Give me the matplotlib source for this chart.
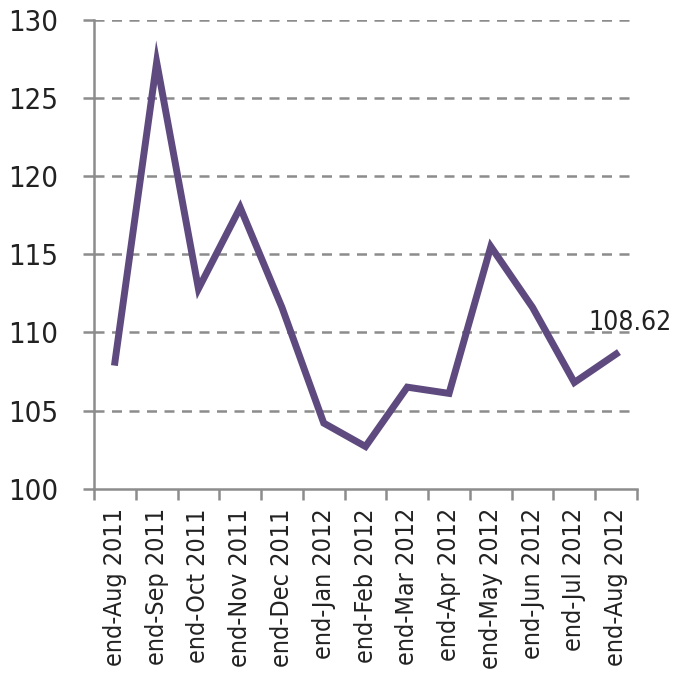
import numpy as np
import matplotlib.pyplot as plt
from matplotlib import font_manager as fm

# Dados (leitura aproximada do gráfico)
months = ['end-Aug 2011', 'end-Sep 2011', 'end-Oct 2011', 'end-Nov 2011',
          'end-Dec 2011', 'end-Jan 2012', 'end-Feb 2012', 'end-Mar 2012',
          'end-Apr 2012', 'end-May 2012', 'end-Jun 2012', 'end-Jul 2012',
          'end-Aug 2012']
values = [108.1, 127.3, 112.8, 118.0, 111.6, 104.2, 102.7, 106.5,
          106.1, 115.5, 111.6, 106.8, 108.62]
y_ticks = [100, 105, 110, 115, 120, 125, 130]

# procura uma fonte condensada, se houver
narrow = [f for f in fm.fontManager.ttflist
          if ('Narrow' in f.name or 'Condensed' in f.name or f.stretch in ('condensed', 'semi-condensed'))
          and f.style == 'normal' and f.weight in (400, 'normal')]
if narrow:
    plt.rcParams['font.family'] = [narrow[0].name, 'DejaVu Sans']
    plt.rcParams['font.stretch'] = narrow[0].stretch
else:
    plt.rcParams['font.family'] = ['Liberation Sans', 'DejaVu Sans']

grey = '#8c8c8c'
purple = '#5e4a7e'

fig = plt.figure(figsize=(6.73, 6.78), dpi=100)
ax = fig.add_axes([0.1397, 0.2792, 0.8068, 0.6913])

x = np.arange(len(months))
ax.plot(x, values, color=purple, lw=5, solid_joinstyle='miter', zorder=3)
ax.annotate(f'{values[-1]:.2f}', (x[-1], values[-1]), xytext=(-20, 17),
            textcoords='offset points', fontsize=19, color='#222222', ha='left')

ax.set_xlim(-0.5, len(months) - 0.5)
ax.set_ylim(100, 130)
ax.set_yticks(y_ticks)
ax.set_yticklabels([str(v) for v in y_ticks], fontsize=21, color='#222222')
for v in y_ticks[1:]:
    ax.axhline(v, color=grey, lw=1.8, ls=(0, (4, 3)), zorder=1, xmax=0.985)

ax.set_xticks(x)
ax.set_xticklabels(months, rotation=90, fontsize=18, color='#222222')
ax.tick_params(axis='x', length=0, pad=14)
ax.set_xticks(np.arange(-0.5, len(months)), minor=True)
ax.tick_params(axis='x', which='minor', length=8, width=1.8, color=grey, direction='out')
ax.tick_params(axis='y', length=8, width=1.8, color=grey, pad=18)

for s in ['top', 'right']:
    ax.spines[s].set_visible(False)
for s in ['left', 'bottom']:
    ax.spines[s].set_color(grey)
    ax.spines[s].set_linewidth(1.8)

fig.savefig('out.png', dpi=100)
